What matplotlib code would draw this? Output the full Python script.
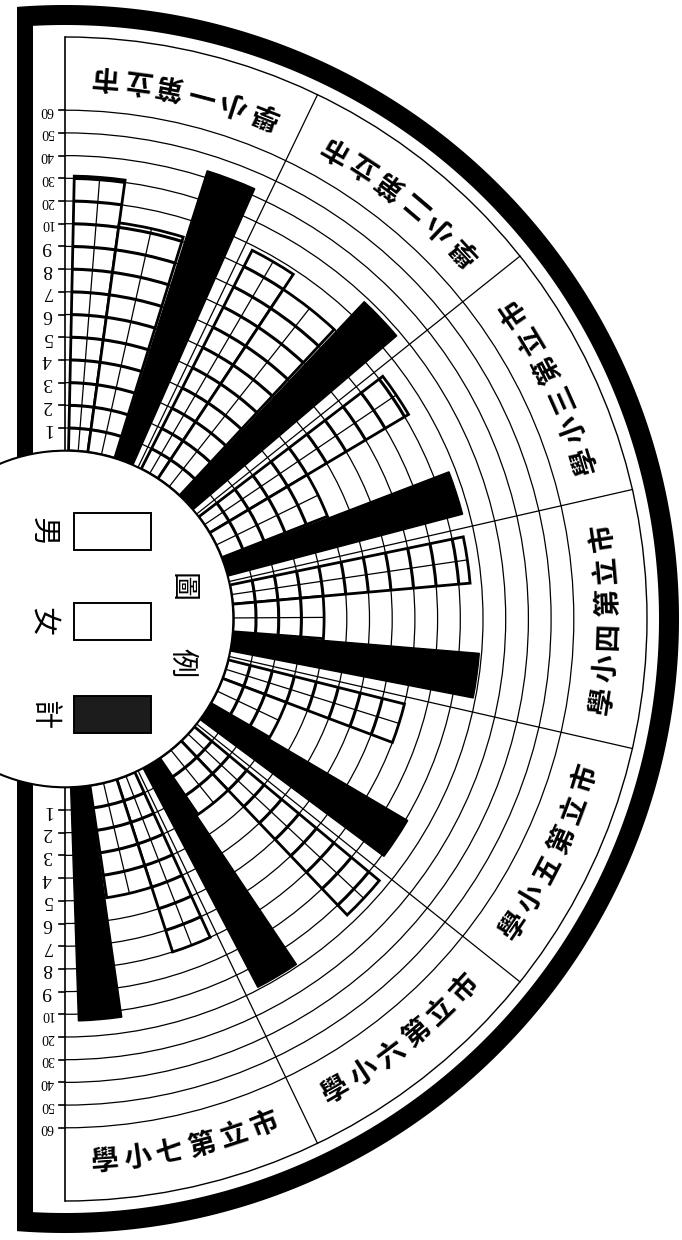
import numpy as np
import matplotlib.pyplot as plt
from matplotlib.patches import Wedge, Arc, Rectangle, Polygon, Circle

plt.rcParams['font.family'] = ['Noto Sans CJK TC', 'DejaVu Sans']

# data
schools = ['市立第一小學', '市立第二小學', '市立第三小學', '市立第四小學',
           '市立第五小學', '市立第六小學', '市立第七小學']
boys = [31, 18, 12, 15, 8, 16, 8]
girls = [12, 10, 5, 4, 3, 3, 5]
totals = [43, 28, 17, 19, 11, 19, 13]
scale_ticks = [1, 2, 3, 4, 5, 6, 7, 8, 9, 10, 20, 30, 40, 50, 60]
legend_labels = ['男', '女', '計']

# geometry, in pixels (y up)
cx, cy = 65, 621
r0 = 168.3          # hub radius = value 0
step = 22.7         # one scale step
r_label = 582       # outer edge of the name ring
sector = 180 / 7
bar_slots = [(1.2, 7.8), (7.8, 17.2), (17.6, 23.8)]   # degrees clockwise from sector start


def level(v):
    # scale goes 1..10 by ones, then 10..60 by tens
    return v if v <= 10 else 10 + (v - 10) / 10.


def rad(v):
    return r0 + step * level(v)


def pt(r, deg):
    a = np.radians(deg)
    return cx + r * np.cos(a), cy + r * np.sin(a)


def d_shape(R, xflat):
    a = np.degrees(np.arccos((xflat - cx) / R))
    t = np.radians(np.linspace(a, -a, 400))
    return np.column_stack([cx + R * np.cos(t), cy + R * np.sin(t)])


fig = plt.figure(figsize=(6.82, 12.4), dpi=100)
ax = fig.add_axes([0, 0, 1, 1])
ax.set_xlim(0, 682)
ax.set_ylim(0, 1240)
ax.axis('off')

# heavy black frame
ax.add_patch(Polygon(d_shape(614, 17), closed=True, fc='black', ec='none', zorder=0))
ax.add_patch(Polygon(d_shape(594, 33), closed=True, fc='white', ec='none', zorder=0.1))

# scale rings across the whole half circle
for v in scale_ticks:
    d = 2 * rad(v)
    ax.add_patch(Arc((cx, cy), d, d, theta1=-90, theta2=90, lw=0.9, color='black', zorder=1))
ax.add_patch(Arc((cx, cy), 2 * r_label, 2 * r_label, theta1=-90, theta2=90,
                 lw=1.0, color='black', zorder=1))

# sector dividers
for i in range(1, 7):
    x0, y0 = pt(r0, 90 - i * sector)
    x1, y1 = pt(r_label, 90 - i * sector)
    ax.plot([x0, x1], [y0, y1], color='black', lw=0.9, zorder=1)

# the two scale axes, ticks and numbers
for sgn in (1, -1):
    ax.plot([cx, cx], [cy + sgn * r0, cy + sgn * r_label], color='black', lw=1.2, zorder=1)
    for v in scale_ticks:
        y = cy + sgn * rad(v)
        ax.plot([cx - 6, cx], [y, y], color='black', lw=1.2, zorder=1)
        ax.text(cx - 18, y, str(v), rotation=180, ha='center', va='center',
                fontsize=14 if v < 10 else 10, family=['Liberation Serif', 'DejaVu Serif'])

# bars: boys / girls open, totals black
for i in range(7):
    start = 90 - i * sector
    for (a, b), vals, solid in zip(bar_slots, (boys, girls, totals), (False, False, True)):
        t1, t2 = start - b, start - a
        r = rad(vals[i])
        if solid:
            ax.add_patch(Wedge((cx, cy), r, t1, t2, width=r - r0, fc='black', ec='black',
                               lw=1, zorder=3))
            continue
        ax.add_patch(Wedge((cx, cy), r, t1, t2, width=r - r0, fc='white', ec='black',
                           lw=2, zorder=2))
        for k in scale_ticks:
            if rad(k) < r - 1:
                d = 2 * rad(k)
                ax.add_patch(Arc((cx, cy), d, d, theta1=t1, theta2=t2, lw=2.2,
                                 color='black', zorder=2.5))
        xm0, ym0 = pt(r0, (t1 + t2) / 2)
        xm1, ym1 = pt(r, (t1 + t2) / 2)
        ax.plot([xm0, xm1], [ym0, ym1], color='black', lw=0.9, zorder=2.5)

# school names round the rim, one character at a time
r_name = 544
dchar = np.degrees(33 / r_name)
for i, name in enumerate(schools):
    mid = 90 - (i + 0.5) * sector
    for j, ch in enumerate(name):
        t = mid + (2.5 - j) * dchar
        x, y = pt(r_name, t)
        ax.text(x, y, ch, rotation=t + 90, rotation_mode='anchor', ha='center', va='center',
                fontsize=20, fontweight='bold')

# hub with the legend
ax.add_patch(Circle((cx, cy), r0, fc='white', ec='black', lw=1.5, zorder=4))
box_y = [690, 600, 507]
box_fc = ['white', 'white', '#1c1c1c']
for lab, y, fc in zip(legend_labels, box_y, box_fc):
    ax.add_patch(Rectangle((74, y), 77, 37, fc=fc, ec='black', lw=1.4, zorder=5))
    ax.text(43, y + 18, lab, rotation=-90, ha='center', va='center', fontsize=21, zorder=5)
ax.text(182, 652, '圖', rotation=-90, ha='center', va='center', fontsize=21, zorder=5)
ax.text(182, 577, '例', rotation=-90, ha='center', va='center', fontsize=21, zorder=5)

fig.savefig('out.png', dpi=100)
